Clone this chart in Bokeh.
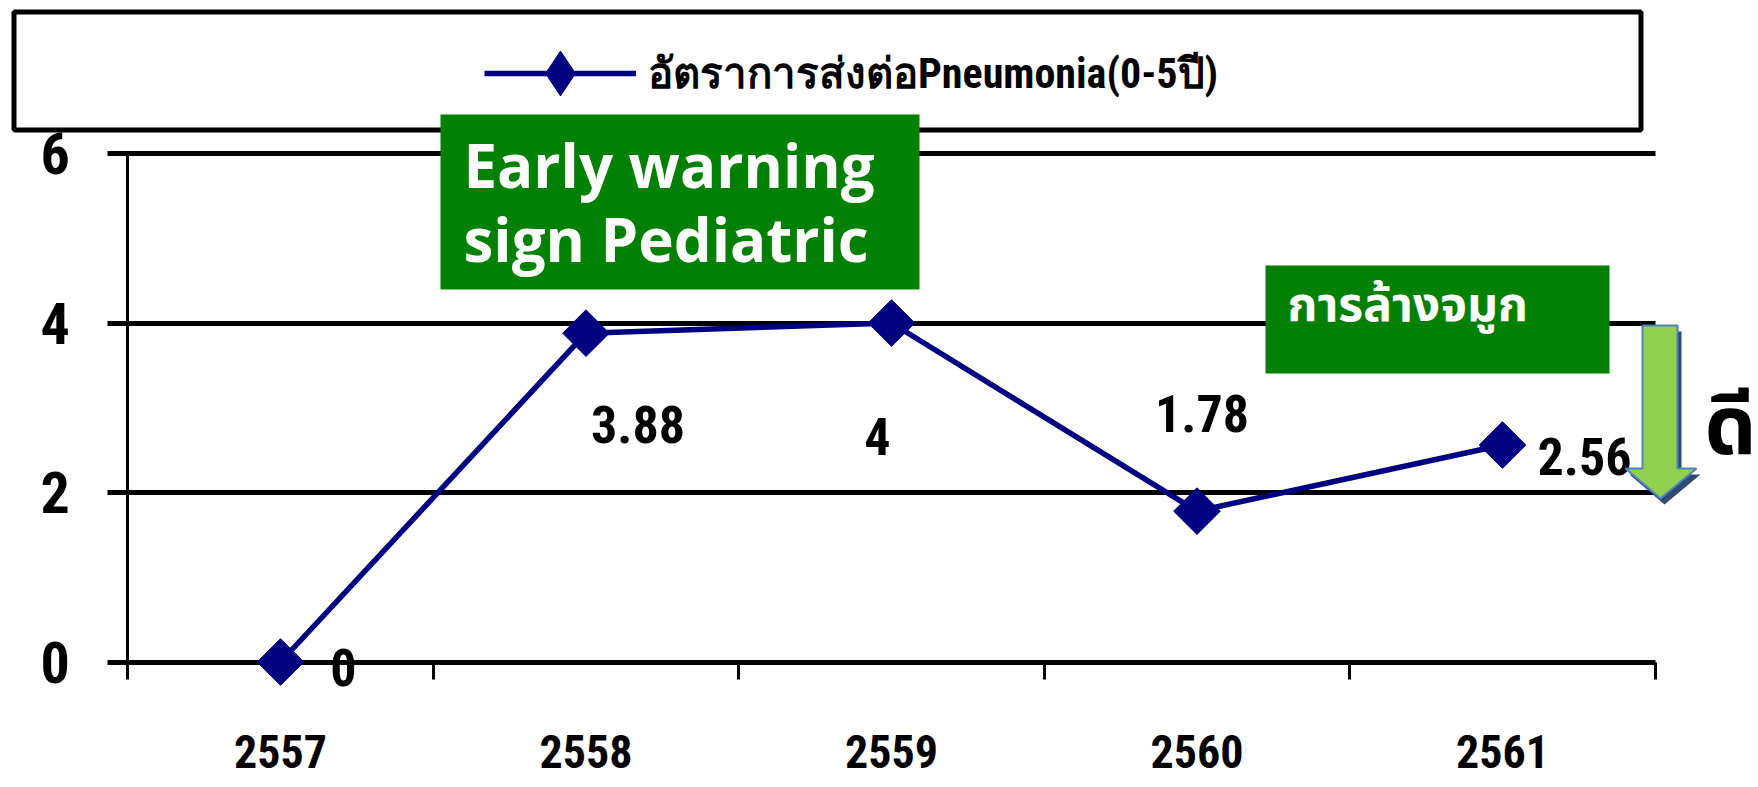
import math

from bokeh.core.properties import value
from bokeh.embed import file_html
from bokeh.models import (BoxAnnotation, ColumnDataSource, FixedTicker, Grid, Label,
                          Legend, LegendItem, LinearAxis, PolyAnnotation, Range1d)
from bokeh.plotting import figure
from bokeh.resources import INLINE

# ---- data -------------------------------------------------------------
years = ["2557", "2558", "2559", "2560", "2561"]
referral_rate = [0, 3.88, 4, 1.78, 2.56]
y_ticks = [0, 2, 4, 6]
series_name = "อัตราการส่งต่อPneumonia(0-5ปี)"
program_lines = ["Early warning", "sign Pediatric"]
intervention = "การล้างจมูก"
direction_note = "ดี"

# ---- layout / style ---------------------------------------------------
W, H = 1758, 787
X0_PX, X_STEP = 280.0, 305.5     # pixel of first category, pixels per category
Y0_PX, Y_STEP = 661.5, 84.75     # pixel of value 0, pixels per unit

NAVY = "#000080"
GREEN = "#008000"
NARROW = "Roboto Condensed, Liberation Sans Narrow, Liberation Sans, sans-serif"
THAI = "Noto Sans Thai, Noto Sans, Tahoma, sans-serif"


def dx(px):
    return (px - X0_PX) / X_STEP


def dy(py):
    return (Y0_PX - py) / Y_STEP


p = figure(width=W, height=H,
           x_range=Range1d(dx(0), dx(W)), y_range=Range1d(dy(H), dy(0)),
           x_axis_type=None, y_axis_type=None,
           toolbar_location=None, output_backend="svg",
           min_border=0, outline_line_color=None,
           background_fill_color="white", border_fill_color="white")

# horizontal grid lines
grid = Grid(dimension=1, ticker=FixedTicker(ticks=y_ticks),
            grid_line_color="black", grid_line_width=5)
if "cross_bounds" in Grid.properties():
    grid.cross_bounds = (dx(107), dx(1655))
p.add_layout(grid)

# value axis
yaxis = LinearAxis(fixed_location=-0.5, bounds=(0, 6), ticker=FixedTicker(ticks=y_ticks),
                   axis_line_color="black", axis_line_width=3,
                   major_tick_out=0, major_tick_in=0, minor_tick_out=0, minor_tick_in=0,
                   major_label_standoff=58,
                   major_label_text_font=NARROW, major_label_text_font_size="58px",
                   major_label_text_font_style="bold", major_label_text_color="black")
p.add_layout(yaxis, "left")

# category axis: labels under each year, small ticks between the years
n = len(years)
xaxis = LinearAxis(fixed_location=0,
                   ticker=FixedTicker(ticks=list(range(n)),
                                      minor_ticks=[i - 0.5 for i in range(n + 1)]),
                   major_label_overrides={i: yr for i, yr in enumerate(years)},
                   axis_line_color=None,
                   major_tick_line_color=None, major_tick_out=0, major_tick_in=0,
                   minor_tick_out=17, minor_tick_in=0,
                   minor_tick_line_width=3, minor_tick_line_color="black",
                   major_label_standoff=56,
                   major_label_text_font=NARROW, major_label_text_font_size="46px",
                   major_label_text_font_style="bold", major_label_text_color="black")
p.add_layout(xaxis, "below")

# ---- series -----------------------------------------------------------
label_dx = [63, 52, -14, 5, 82]
label_dy = [5, 91, 113, -98, 11]
src = ColumnDataSource(dict(
    x=list(range(n)),
    y=referral_rate,
    label=[f"{v:g}" for v in referral_rate],
    ox=label_dx,
    oy=label_dy,
))

line_r = p.line("x", "y", source=src, line_color=NAVY, line_width=5.5)
mark_r = p.scatter("x", "y", source=src, marker="square", angle=math.pi / 4, size=33,
                   fill_color=NAVY, line_color=NAVY)
key_r = p.scatter("x", "y", source=src, marker="diamond", size=45,
                  fill_color=NAVY, line_color=NAVY, visible=False)

p.text("x", "y", text="label", x_offset="ox", y_offset="oy", source=src,
       text_font=value(NARROW), text_font_size="52px", text_font_style="bold",
       text_align="center", text_baseline="middle", text_color="black")

# ---- legend -----------------------------------------------------------
p.add_layout(BoxAnnotation(left=dx(13.5), right=dx(1640.5), top=dy(11.5), bottom=dy(129.5),
                           fill_color="white", fill_alpha=1, line_color="black",
                           line_alpha=1, line_width=5, line_dash="solid", level="underlay"))

legend = Legend(items=[LegendItem(label=series_name, renderers=[line_r, key_r])],
                location=(484, H - 129), orientation="horizontal",
                border_line_color=None, background_fill_alpha=0,
                glyph_width=152, glyph_height=112, label_standoff=12,
                padding=0, margin=0, spacing=0,
                label_text_font=NARROW, label_text_font_size="42px",
                label_text_font_style="bold", label_text_color="black")
p.add_layout(legend)

# ---- callouts ---------------------------------------------------------
p.add_layout(BoxAnnotation(left=dx(440), right=dx(919), top=dy(114), bottom=dy(289),
                           fill_color=GREEN, fill_alpha=1, line_color=None))
for i, txt in enumerate(program_lines):
    p.add_layout(Label(x=dx(463), y=dy(164 + 74 * i), text=txt, text_color="white",
                       text_font="Open Sans", text_font_size="60px", text_font_style="bold",
                       text_align="left", text_baseline="alphabetic"))

p.add_layout(BoxAnnotation(left=dx(1265), right=dx(1609), top=dy(265), bottom=dy(373),
                           fill_color=GREEN, fill_alpha=1, line_color=None))
p.add_layout(Label(x=dx(1287), y=dy(306), text=intervention, text_color="white",
                   text_font=THAI, text_font_size="48px", text_font_style="bold",
                   text_align="left", text_baseline="alphabetic"))

# downward block arrow with a drop shadow
arrow_px = [(1642, 325), (1677, 325), (1677, 468), (1696, 468),
            (1660, 498), (1625, 468), (1642, 468)]
p.add_layout(PolyAnnotation(xs=[dx(x + 4) for x, _ in arrow_px],
                            ys=[dy(y + 6) for _, y in arrow_px],
                            fill_color="#2E4A70", fill_alpha=1, line_color=None))
p.add_layout(PolyAnnotation(xs=[dx(x) for x, _ in arrow_px],
                            ys=[dy(y) for _, y in arrow_px],
                            fill_color="#92D050", fill_alpha=1,
                            line_color="#4F81BD", line_alpha=1, line_width=2))

p.add_layout(Label(x=dx(1704), y=dy(428), text=direction_note, text_color="black",
                   text_font=THAI, text_font_size="82px", text_font_style="bold",
                   text_align="left", text_baseline="alphabetic"))

open("out.html", "w").write(file_html(p, INLINE))
